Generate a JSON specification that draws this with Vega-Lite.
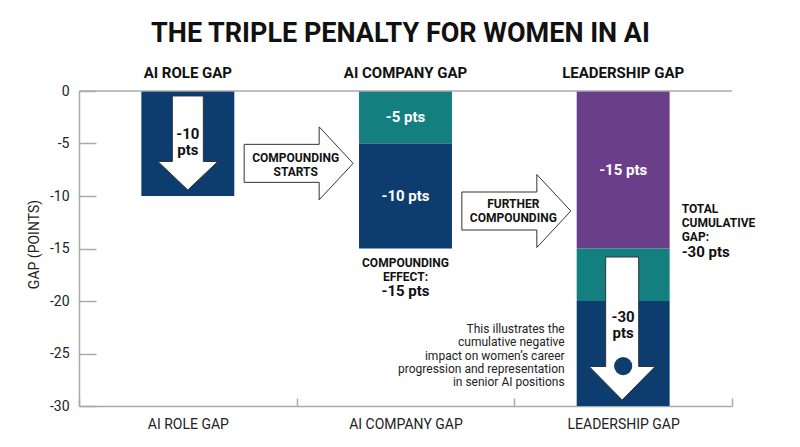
{
  "$schema": "https://vega.github.io/schema/vega-lite/v6.json",
  "width": 653,
  "height": 315,
  "autosize": {"type": "none"},
  "padding": {"left": 79, "top": 91, "right": 68, "bottom": 41},
  "background": "white",
  "config": {"font": "Roboto", "view": {"stroke": null}, "axisY": {"titleFontSize": 14, "titleFontWeight": "normal", "titleColor": "#222"}},
  "title": {"text": "THE TRIPLE PENALTY FOR WOMEN IN AI", "fontSize": 27, "fontWeight": "bold", "color": "#111", "anchor": "middle", "frame": "group", "dx": -5, "offset": 18},
  "datasets": {
    "bars": [
      {"stage": "AI ROLE GAP", "component": "Role gap", "from": 0, "to": -10},
      {"stage": "AI COMPANY GAP", "component": "Company gap", "from": 0, "to": -5},
      {"stage": "AI COMPANY GAP", "component": "Role gap", "from": -5, "to": -15},
      {"stage": "LEADERSHIP GAP", "component": "Leadership gap", "from": 0, "to": -15},
      {"stage": "LEADERSHIP GAP", "component": "Company gap", "from": -15, "to": -20},
      {"stage": "LEADERSHIP GAP", "component": "Role gap", "from": -20, "to": -30}
    ],
    "arrows": [
      {"id": "down1", "stage": "AI ROLE GAP", "y": -4.95},
      {"id": "right", "stage": "AI ROLE GAP", "y": -6.89},
      {"id": "right", "stage": "AI COMPANY GAP", "y": -11.43},
      {"id": "down3", "stage": "LEADERSHIP GAP", "y": -22.62},
      {"id": "dot", "stage": "LEADERSHIP GAP", "y": -26.2}
    ],
    "notes": [
      {"id": "header", "stage": "AI ROLE GAP", "y": 0, "text": "AI ROLE GAP"},
      {"id": "header", "stage": "AI COMPANY GAP", "y": 0, "text": "AI COMPANY GAP"},
      {"id": "header", "stage": "LEADERSHIP GAP", "y": 0, "text": "LEADERSHIP GAP"},
      {"id": "arrowLabel", "stage": "AI ROLE GAP", "y": -4.1, "text": "-10|pts"},
      {"id": "arrowLabel", "stage": "LEADERSHIP GAP", "y": -21.52, "text": "-30|pts"},
      {"id": "barLabel", "stage": "AI COMPANY GAP", "y": -2.5, "text": "-5 pts"},
      {"id": "barLabel", "stage": "AI COMPANY GAP", "y": -10, "text": "-10 pts"},
      {"id": "barLabel", "stage": "LEADERSHIP GAP", "y": -7.5, "text": "-15 pts"},
      {"id": "arrowText", "stage": "AI ROLE GAP", "y": -6.38, "text": "COMPOUNDING|STARTS"},
      {"id": "arrowText", "stage": "AI COMPANY GAP", "y": -10.76, "text": "FURTHER|COMPOUNDING"},
      {"id": "effect", "stage": "AI COMPANY GAP", "y": -16.38, "text": "COMPOUNDING|EFFECT:"},
      {"id": "effectValue", "stage": "AI COMPANY GAP", "y": -19.05, "text": "-15 pts"},
      {"id": "total", "stage": "LEADERSHIP GAP", "y": -11.2, "text": "TOTAL|CUMULATIVE|GAP:"},
      {"id": "totalValue", "stage": "LEADERSHIP GAP", "y": -15.33, "text": "-30 pts"},
      {"id": "note", "stage": "LEADERSHIP GAP", "y": -22.67, "text": "This illustrates the|cumulative negative|impact on women’s career|progression and representation|in senior AI positions"}
    ]
  },
  "layer": [
    {
      "data": {"name": "bars"},
      "mark": {"type": "bar", "width": {"band": 0.427}},
      "encoding": {
        "x": {
          "field": "stage", "type": "nominal",
          "scale": {"domain": ["AI ROLE GAP", "AI COMPANY GAP", "LEADERSHIP GAP"], "paddingInner": 0, "paddingOuter": 0},
          "axis": {"orient": "bottom", "title": null, "labelAngle": 0, "labelFontSize": 14, "labelColor": "#222", "labelPadding": 19, "tickBand": "extent", "tickSize": -8, "tickColor": "#aaa", "domainColor": "#aaa", "tickWidth": 1.5, "domainWidth": 1.5}
        },
        "y": {
          "field": "from", "type": "quantitative",
          "scale": {"domain": [-30, 0], "nice": false},
          "axis": {"values": [0, -5, -10, -15, -20, -25, -30], "labelExpr": "'' + datum.value", "title": "GAP (POINTS)", "titleFontSize": 14, "titleFontWeight": "normal", "titleColor": "#222", "titlePadding": 8, "titleAngle": -90, "titleAlign": "center", "titleBaseline": "bottom", "titleY": 153, "labelFontSize": 14, "labelColor": "#222", "labelPadding": 27, "tickSize": -17, "tickColor": "#aaa", "domainColor": "#aaa", "tickWidth": 1.5, "domainWidth": 1.5, "grid": false}
        },
        "y2": {"field": "to"},
        "color": {"field": "component", "type": "nominal", "scale": {"domain": ["Role gap", "Company gap", "Leadership gap"], "range": ["#0d3c6e", "#137f7f", "#6b3e8a"]}, "legend": null}
      }
    },
    {
      "data": {"values": [{"y": 0}]},
      "mark": {"type": "rule", "color": "#aaa", "strokeWidth": 1.5},
      "encoding": {"y": {"field": "y", "type": "quantitative"}}
    },
    {
      "data": {"name": "arrows"},
      "transform": [{"filter": "datum.id === 'right'"}],
      "mark": {"type": "point", "shape": "M -52.5 -19 L 22.5 -19 L 22.5 -36.5 L 56.5 0 L 22.5 36.5 L 22.5 19 L -52.5 19 Z", "size": 4, "filled": true, "fill": "white", "stroke": "#333", "strokeWidth": 1, "opacity": 1},
      "encoding": {
        "x": {"field": "stage", "type": "nominal", "bandPosition": 1},
        "y": {"field": "y", "type": "quantitative"}
      }
    },
    {
      "data": {"name": "arrows"},
      "transform": [{"filter": "datum.id === 'down1'"}],
      "mark": {"type": "point", "shape": "M -15.5 -47 L 15.5 -47 L 15.5 18.5 L 30 18.5 L 0 47 L -30 18.5 L -15.5 18.5 Z", "size": 4, "filled": true, "fill": "white", "stroke": "#333", "strokeWidth": 1, "opacity": 1},
      "encoding": {
        "x": {"field": "stage", "type": "nominal"},
        "y": {"field": "y", "type": "quantitative"}
      }
    },
    {
      "data": {"name": "arrows"},
      "transform": [{"filter": "datum.id === 'down3'"}],
      "mark": {"type": "point", "shape": "M -17.5 -71.5 L 15.5 -71.5 L 15.5 38 L 32 38 L -1 71.5 L -34 38 L -17.5 38 Z", "size": 4, "filled": true, "fill": "white", "stroke": "#333", "strokeWidth": 1, "opacity": 1},
      "encoding": {
        "x": {"field": "stage", "type": "nominal"},
        "y": {"field": "y", "type": "quantitative"}
      }
    },
    {
      "data": {"name": "arrows"},
      "transform": [{"filter": "datum.id === 'dot'"}],
      "mark": {"type": "point", "shape": "circle", "size": 330, "filled": true, "fill": "#0d3c6e", "opacity": 1},
      "encoding": {
        "x": {"field": "stage", "type": "nominal"},
        "y": {"field": "y", "type": "quantitative"}
      }
    },
    {
      "data": {"name": "notes"},
      "transform": [{"filter": "datum.id === 'header'"}],
      "mark": {"type": "text", "fontSize": 15, "fontWeight": "bold", "color": "#111", "align": "center", "baseline": "middle", "dy": -18},
      "encoding": {
        "x": {"field": "stage", "type": "nominal"},
        "y": {"field": "y", "type": "quantitative"},
        "text": {"field": "text"}
      }
    },
    {
      "data": {"name": "notes"},
      "transform": [{"filter": "datum.id === 'arrowLabel'"}],
      "mark": {"type": "text", "fontSize": 15, "fontWeight": "bold", "color": "#111", "align": "center", "baseline": "middle", "lineBreak": "|", "lineHeight": 16},
      "encoding": {
        "x": {"field": "stage", "type": "nominal"},
        "y": {"field": "y", "type": "quantitative"},
        "text": {"field": "text"}
      }
    },
    {
      "data": {"name": "notes"},
      "transform": [{"filter": "datum.id === 'barLabel'"}],
      "mark": {"type": "text", "fontSize": 15, "fontWeight": "bold", "color": "white", "align": "center", "baseline": "middle"},
      "encoding": {
        "x": {"field": "stage", "type": "nominal"},
        "y": {"field": "y", "type": "quantitative"},
        "text": {"field": "text"}
      }
    },
    {
      "data": {"name": "notes"},
      "transform": [{"filter": "datum.id === 'arrowText'"}],
      "mark": {"type": "text", "fontSize": 12, "fontWeight": "bold", "color": "#111", "align": "center", "baseline": "middle", "lineBreak": "|", "lineHeight": 14, "dx": -1},
      "encoding": {
        "x": {"field": "stage", "type": "nominal", "bandPosition": 1},
        "y": {"field": "y", "type": "quantitative"},
        "text": {"field": "text"}
      }
    },
    {
      "data": {"name": "notes"},
      "transform": [{"filter": "datum.id === 'effect'"}],
      "mark": {"type": "text", "fontSize": 12, "fontWeight": "bold", "color": "#111", "align": "center", "baseline": "middle", "lineBreak": "|", "lineHeight": 14},
      "encoding": {
        "x": {"field": "stage", "type": "nominal"},
        "y": {"field": "y", "type": "quantitative"},
        "text": {"field": "text"}
      }
    },
    {
      "data": {"name": "notes"},
      "transform": [{"filter": "datum.id === 'effectValue'"}],
      "mark": {"type": "text", "fontSize": 15, "fontWeight": "bold", "color": "#111", "align": "center", "baseline": "middle"},
      "encoding": {
        "x": {"field": "stage", "type": "nominal"},
        "y": {"field": "y", "type": "quantitative"},
        "text": {"field": "text"}
      }
    },
    {
      "data": {"name": "notes"},
      "transform": [{"filter": "datum.id === 'total'"}],
      "mark": {"type": "text", "fontSize": 12, "fontWeight": "bold", "color": "#111", "align": "left", "baseline": "middle", "lineBreak": "|", "lineHeight": 14, "dx": 58.5},
      "encoding": {
        "x": {"field": "stage", "type": "nominal"},
        "y": {"field": "y", "type": "quantitative"},
        "text": {"field": "text"}
      }
    },
    {
      "data": {"name": "notes"},
      "transform": [{"filter": "datum.id === 'totalValue'"}],
      "mark": {"type": "text", "fontSize": 15, "fontWeight": "bold", "color": "#111", "align": "left", "baseline": "middle", "dx": 58.5},
      "encoding": {
        "x": {"field": "stage", "type": "nominal"},
        "y": {"field": "y", "type": "quantitative"},
        "text": {"field": "text"}
      }
    },
    {
      "data": {"name": "notes"},
      "transform": [{"filter": "datum.id === 'note'"}],
      "mark": {"type": "text", "fontSize": 12, "fontWeight": "normal", "color": "#222", "align": "right", "baseline": "middle", "lineBreak": "|", "lineHeight": 13.3, "dx": -58.5},
      "encoding": {
        "x": {"field": "stage", "type": "nominal"},
        "y": {"field": "y", "type": "quantitative"},
        "text": {"field": "text"}
      }
    }
  ]
}
